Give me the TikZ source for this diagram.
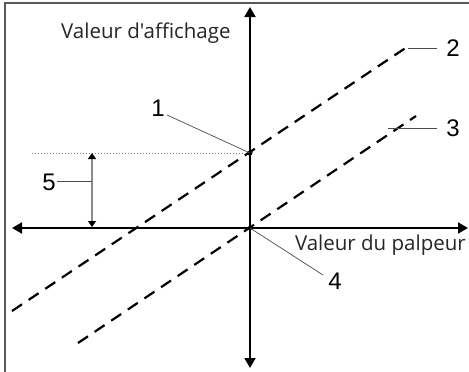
\documentclass[tikz,border=0pt]{standalone}
\usepackage{fontspec}
\setmainfont{Open Sans}
\newfontfamily\lblfont{Open Sans}
\newfontfamily\numfont{Liberation Sans}
\usetikzlibrary{arrows.meta}
\begin{document}
\begin{tikzpicture}[x=1pt,y=-1pt,
  axis/.style={line width=2pt,{Triangle[length=10pt,width=11pt]}-{Triangle[length=10pt,width=11pt]}},
  dline/.style={line width=2.2pt,dash pattern=on 12pt off 8pt},
  leader/.style={line width=0.7pt,black!70},
  num/.style={font=\numfont\fontsize{24}{24}\selectfont,inner sep=0pt},
  lbl/.style={font=\lblfont\fontsize{20.5}{20.5}\selectfont,inner sep=0pt,text=black!85}]
\useasboundingbox (0,0) rectangle (469,372);
\draw[line width=2pt,black!65] (4.5,372) -- (4.5,2.5) -- (469,2.5);
% axes
\coordinate (O) at (250,228);
\coordinate (P) at (250,153);
\coordinate (xl) at (12,228);
\coordinate (xr) at (468,228);
\coordinate (yt) at (250,7);
\coordinate (yb) at (250,368);
\draw[axis] (xl) -- (xr);
\draw[axis] (yb) -- (yt);
% dashed lines
\coordinate (l2a) at (12,311);
\coordinate (l2b) at (410,45);
\coordinate (l3a) at (78,343);
\coordinate (l3b) at (416,116);
\draw[dline] (l2a) -- (l2b);
\draw[dline] (l3a) -- (l3b);
% dotted
\coordinate (d0) at (32,153);
\draw[black!50,line width=0.6pt,dash pattern=on 1pt off 2pt] (d0) -- (P);
\fill (P) circle (2.6pt);
\fill (O) circle (2.2pt);
% dimension 5
\coordinate (m1) at (92,153);
\coordinate (m2) at (92,227);
\draw[black!45,line width=1.3pt,{Triangle[length=6pt,width=8pt,fill=black,color=black]}-{Triangle[length=6pt,width=8pt,fill=black,color=black]}] (m1) -- (m2);
% texts
\node[lbl,anchor=west] (ty) at (61,33) {Valeur d'affichage};
\node[lbl,anchor=east] (tx) at (466,245) {Valeur du palpeur};
% labels
\node[num] (n1) at (158,108) {1};
\node[num] (n2) at (453,48) {2};
\node[num] (n3) at (453,128) {3};
\node[num] (n4) at (335,281) {4};
\node[num] (n5) at (49,182) {5};
\coordinate (c1) at (167,115);
\coordinate (c2a) at (408,48);
\coordinate (c2b) at (437,48);
\coordinate (c3a) at (388,128);
\coordinate (c3b) at (437,128);
\coordinate (c4) at (323,275);
\coordinate (c5a) at (57,181);
\coordinate (c5b) at (92,181);
\draw[leader] (c1) -- (P);
\draw[leader] (c2a) -- (c2b);
\draw[leader] (c3a) -- (c3b);
\draw[leader] (O) -- (c4);
\draw[leader] (c5a) -- (c5b);
\end{tikzpicture}
\end{document}
